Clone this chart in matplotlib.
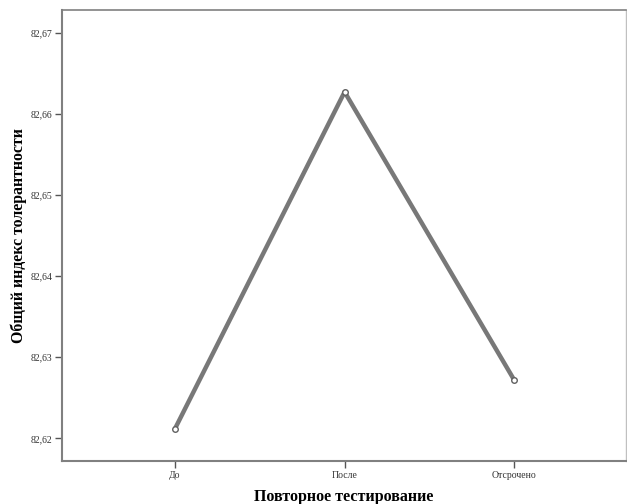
import matplotlib
matplotlib.use("Agg")
import matplotlib.pyplot as plt
from matplotlib.ticker import FuncFormatter

categories = ["До", "После", "Отсрочено"]
values = [82.6212, 82.6627, 82.6272]
yticks = [82.62, 82.63, 82.64, 82.65, 82.66, 82.67]

plt.rcParams['font.family'] = ['Liberation Serif', 'DejaVu Serif']

fig = plt.figure(figsize=(6.27, 5.04), dpi=100)
ax = fig.add_axes([62/627, 43/504, (626-62)/627, (461-10)/504])

x = list(range(len(categories)))
ax.plot(x, values, color='#787878', linewidth=3.2, solid_capstyle='round', zorder=2)
ax.plot(x, values, linestyle='none', marker='o', markersize=4,
        markerfacecolor='white', markeredgecolor='#606060', markeredgewidth=1, zorder=3)

ax.set_xlim(-0.667, 2.66)
ax.set_ylim(82.6172, 82.6728)
ax.set_xticks(x)
ax.set_xticklabels(categories)
ax.set_yticks(yticks)
ax.yaxis.set_major_formatter(FuncFormatter(lambda v, p: f"{v:.2f}".replace('.', ',')))

ax.tick_params(axis='both', labelsize=7, length=5, width=1, color='#555555', labelcolor='#333333', pad=2)

for s in ['left', 'bottom']:
    ax.spines[s].set_color('#808080')
    ax.spines[s].set_linewidth(1.5)
ax.spines['top'].set_color('#808080')
ax.spines['top'].set_linewidth(1.2)
ax.spines['right'].set_color('#c0c0c0')
ax.spines['right'].set_linewidth(1)

ax.set_xlabel("Повторное тестирование", fontsize=11.5, fontweight='bold', labelpad=7)
ax.set_ylabel("Общий индекс толерантности", fontsize=11.4, fontweight='bold')
ax.yaxis.set_label_coords((27 - 62) / 564, 0.5)

fig.savefig("out.png", dpi=100)
